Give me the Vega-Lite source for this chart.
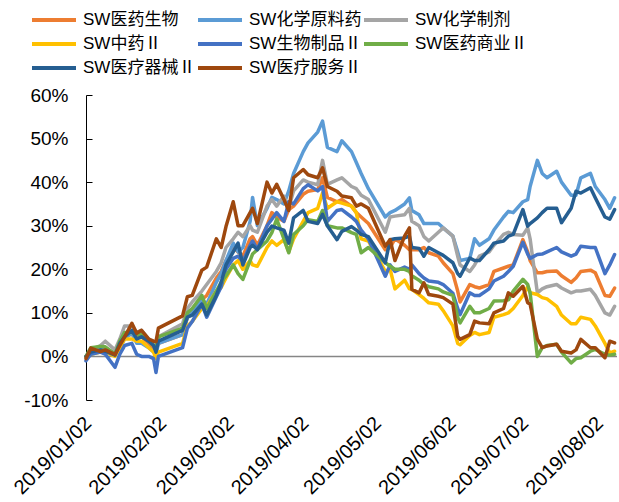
{
"$schema": "https://vega.github.io/schema/vega-lite/v6.json",
"width": 531,
"height": 305,
"autosize": {"type": "none"},
"padding": {"left": 86, "top": 95, "right": 2, "bottom": 102},
"background": "white",
"config": {"view": {"stroke": null}, "font": "Liberation Sans",
 "axisY": {"title": null, "grid": false, "domainColor": "#000", "domainWidth": 1, "tickColor": "#000", "tickSize": -6, "tickWidth": 1, "labelPadding": 24, "labelFontSize": 19, "labelColor": "#000", "values": [-10,0,10,20,30,40,50,60], "labelExpr": "datum.value + '%'"}},
"layer": [
{
"data": {"values": [{}]},
"mark": {"type": "rule", "color": "#868686", "strokeWidth": 1.5},
"encoding": {"y": {"datum": 0, "type": "quantitative"}}
},
{
"data": {"values": [
{"d":"2019-01-02","SW医药生物":0,"SW化学原料药":0,"SW化学制剂":0,"SW中药Ⅱ":0,"SW生物制品Ⅱ":-1,"SW医药商业Ⅱ":0,"SW医疗器械Ⅱ":0,"SW医疗服务Ⅱ":-0.5},
{"d":"2019-01-04","SW医药生物":1,"SW化学原料药":1,"SW化学制剂":1.5,"SW中药Ⅱ":0.5,"SW生物制品Ⅱ":0.5,"SW医药商业Ⅱ":2,"SW医疗器械Ⅱ":1,"SW医疗服务Ⅱ":1.9},
{"d":"2019-01-08","SW医药生物":1.5,"SW化学原料药":1.5,"SW化学制剂":2.5,"SW中药Ⅱ":1,"SW生物制品Ⅱ":1,"SW医药商业Ⅱ":2.3,"SW医疗器械Ⅱ":1.5,"SW医疗服务Ⅱ":1.1},
{"d":"2019-01-10","SW医药生物":2,"SW化学原料药":2,"SW化学制剂":3.5,"SW中药Ⅱ":1,"SW生物制品Ⅱ":0.5,"SW医药商业Ⅱ":2.2,"SW医疗器械Ⅱ":1.2,"SW医疗服务Ⅱ":1.5},
{"d":"2019-01-14","SW医药生物":0.5,"SW化学原料药":0.5,"SW化学制剂":1.5,"SW中药Ⅱ":0,"SW生物制品Ⅱ":-2.5,"SW医药商业Ⅱ":0.5,"SW医疗器械Ⅱ":0.3,"SW医疗服务Ⅱ":0.4},
{"d":"2019-01-16","SW医药生物":3,"SW化学原料药":2,"SW化学制剂":4,"SW中药Ⅱ":2,"SW生物制品Ⅱ":0.5,"SW医药商业Ⅱ":3.5,"SW医疗器械Ⅱ":3,"SW医疗服务Ⅱ":2.5},
{"d":"2019-01-18","SW医药生物":5,"SW化学原料药":4,"SW化学制剂":7,"SW中药Ⅱ":4,"SW生物制品Ⅱ":2.5,"SW医药商业Ⅱ":5.5,"SW医疗器械Ⅱ":4.5,"SW医疗服务Ⅱ":4.5},
{"d":"2019-01-21","SW医药生物":5,"SW化学原料药":5.5,"SW化学制剂":7,"SW中药Ⅱ":4,"SW生物制品Ⅱ":3,"SW医药商业Ⅱ":5.5,"SW医疗器械Ⅱ":6,"SW医疗服务Ⅱ":7.6},
{"d":"2019-01-23","SW医药生物":4.5,"SW化学原料药":3,"SW化学制剂":5.5,"SW中药Ⅱ":3.5,"SW生物制品Ⅱ":0.5,"SW医药商业Ⅱ":5,"SW医疗器械Ⅱ":4,"SW医疗服务Ⅱ":5.3},
{"d":"2019-01-25","SW医药生物":4.5,"SW化学原料药":3,"SW化学制剂":6,"SW中药Ⅱ":3.5,"SW生物制品Ⅱ":0,"SW医药商业Ⅱ":5,"SW医疗器械Ⅱ":4.5,"SW医疗服务Ⅱ":6},
{"d":"2019-01-28","SW医药生物":3,"SW化学原料药":2,"SW化学制剂":4,"SW中药Ⅱ":2,"SW生物制品Ⅱ":0,"SW医药商业Ⅱ":3.5,"SW医疗器械Ⅱ":3.5,"SW医疗服务Ⅱ":4},
{"d":"2019-01-30","SW医药生物":2,"SW化学原料药":1,"SW化学制剂":3,"SW中药Ⅱ":1,"SW生物制品Ⅱ":-0.5,"SW医药商业Ⅱ":2.5,"SW医疗器械Ⅱ":2.5,"SW医疗服务Ⅱ":3.5},
{"d":"2019-01-31","SW医药生物":1.5,"SW化学原料药":0.5,"SW化学制剂":2,"SW中药Ⅱ":-0.5,"SW生物制品Ⅱ":-3.7,"SW医药商业Ⅱ":2,"SW医疗器械Ⅱ":1,"SW医疗服务Ⅱ":3.4},
{"d":"2019-02-01","SW医药生物":3,"SW化学原料药":3,"SW化学制剂":4.5,"SW中药Ⅱ":1,"SW生物制品Ⅱ":0,"SW医药商业Ⅱ":4.5,"SW医疗器械Ⅱ":3.5,"SW医疗服务Ⅱ":6.5},
{"d":"2019-02-11","SW医药生物":5,"SW化学原料药":5,"SW化学制剂":7.5,"SW中药Ⅱ":3,"SW生物制品Ⅱ":2,"SW医药商业Ⅱ":6.5,"SW医疗器械Ⅱ":6,"SW医疗服务Ⅱ":9.3},
{"d":"2019-02-13","SW医药生物":9,"SW化学原料药":9,"SW化学制剂":11,"SW中药Ⅱ":7,"SW生物制品Ⅱ":6.5,"SW医药商业Ⅱ":10,"SW医疗器械Ⅱ":9,"SW医疗服务Ⅱ":13.7},
{"d":"2019-02-15","SW医药生物":10,"SW化学原料药":10,"SW化学制剂":12.5,"SW中药Ⅱ":8,"SW生物制品Ⅱ":8,"SW医药商业Ⅱ":11,"SW医疗器械Ⅱ":9.5,"SW医疗服务Ⅱ":14},
{"d":"2019-02-19","SW医药生物":13,"SW化学原料药":13,"SW化学制剂":15,"SW中药Ⅱ":11,"SW生物制品Ⅱ":12,"SW医药商业Ⅱ":14,"SW医疗器械Ⅱ":12,"SW医疗服务Ⅱ":19.8},
{"d":"2019-02-21","SW医药生物":14,"SW化学原料药":12,"SW化学制剂":16.5,"SW中药Ⅱ":11.5,"SW生物制品Ⅱ":9,"SW医药商业Ⅱ":11,"SW医疗器械Ⅱ":9.5,"SW医疗服务Ⅱ":20.5},
{"d":"2019-02-25","SW医药生物":18,"SW化学原料药":17,"SW化学制剂":19.5,"SW中药Ⅱ":15,"SW生物制品Ⅱ":13.7,"SW医药商业Ⅱ":15,"SW医疗器械Ⅱ":14,"SW医疗服务Ⅱ":27},
{"d":"2019-02-27","SW医药生物":19.5,"SW化学原料药":19,"SW化学制剂":21.5,"SW中药Ⅱ":15.8,"SW生物制品Ⅱ":16,"SW医药商业Ⅱ":17,"SW医疗器械Ⅱ":17,"SW医疗服务Ⅱ":25},
{"d":"2019-03-01","SW医药生物":22,"SW化学原料药":22,"SW化学制剂":25,"SW中药Ⅱ":18,"SW生物制品Ⅱ":20,"SW医药商业Ⅱ":18.5,"SW医疗器械Ⅱ":21,"SW医疗服务Ⅱ":29.8},
{"d":"2019-03-04","SW医药生物":25,"SW化学原料药":26,"SW化学制剂":27,"SW中药Ⅱ":21,"SW生物制品Ⅱ":22.5,"SW医药商业Ⅱ":21,"SW医疗器械Ⅱ":24,"SW医疗服务Ⅱ":35.5},
{"d":"2019-03-06","SW医药生物":24,"SW化学原料药":24,"SW化学制剂":28.5,"SW中药Ⅱ":22,"SW生物制品Ⅱ":23,"SW医药商业Ⅱ":19,"SW医疗器械Ⅱ":26,"SW医疗服务Ⅱ":30},
{"d":"2019-03-08","SW医药生物":23,"SW化学原料药":25,"SW化学制剂":27.5,"SW中药Ⅱ":20,"SW生物制品Ⅱ":21.8,"SW医药商业Ⅱ":17.7,"SW医疗器械Ⅱ":21,"SW医疗服务Ⅱ":30},
{"d":"2019-03-11","SW医药生物":27,"SW化学原料药":31,"SW化学制剂":30,"SW中药Ⅱ":22,"SW生物制品Ⅱ":25.5,"SW医药商业Ⅱ":22,"SW医疗器械Ⅱ":25,"SW医疗服务Ⅱ":33},
{"d":"2019-03-12","SW医药生物":27.5,"SW化学原料药":36.5,"SW化学制剂":29,"SW中药Ⅱ":21,"SW生物制品Ⅱ":26.5,"SW医药商业Ⅱ":23.5,"SW医疗器械Ⅱ":25.5,"SW医疗服务Ⅱ":34},
{"d":"2019-03-14","SW医药生物":25.5,"SW化学原料药":30,"SW化学制剂":28.5,"SW中药Ⅱ":20.7,"SW生物制品Ⅱ":24.5,"SW医药商业Ⅱ":24.5,"SW医疗器械Ⅱ":24.5,"SW医疗服务Ⅱ":30.5},
{"d":"2019-03-18","SW医药生物":30,"SW化学原料药":34,"SW化学制剂":34.5,"SW中药Ⅱ":25,"SW生物制品Ⅱ":30,"SW医药商业Ⅱ":26.5,"SW医疗器械Ⅱ":28.5,"SW医疗服务Ⅱ":40},
{"d":"2019-03-20","SW医药生物":33,"SW化学原料药":36.5,"SW化学制剂":36,"SW中药Ⅱ":26.5,"SW生物制品Ⅱ":31.5,"SW医药商业Ⅱ":28.4,"SW医疗器械Ⅱ":29.9,"SW医疗服务Ⅱ":37.5},
{"d":"2019-03-22","SW医药生物":32,"SW化学原料药":36,"SW化学制剂":34.5,"SW中药Ⅱ":25.5,"SW生物制品Ⅱ":33,"SW医药商业Ⅱ":31.5,"SW医疗器械Ⅱ":29.5,"SW医疗服务Ⅱ":39.5},
{"d":"2019-03-25","SW医药生物":31,"SW化学原料药":35,"SW化学制剂":36.8,"SW中药Ⅱ":26.8,"SW生物制品Ⅱ":31,"SW医药商业Ⅱ":27,"SW医疗器械Ⅱ":29,"SW医疗服务Ⅱ":36},
{"d":"2019-03-27","SW医药生物":33.7,"SW化学原料药":38,"SW化学制剂":34,"SW中药Ⅱ":24,"SW生物制品Ⅱ":35.5,"SW医药商业Ⅱ":23.8,"SW医疗器械Ⅱ":26,"SW医疗服务Ⅱ":33.5},
{"d":"2019-03-29","SW医药生物":34.5,"SW化学原料药":42,"SW化学制剂":38,"SW中药Ⅱ":27,"SW生物制品Ⅱ":35,"SW医药商业Ⅱ":28,"SW医疗器械Ⅱ":31.8,"SW医疗服务Ⅱ":41},
{"d":"2019-04-02","SW医药生物":37.2,"SW化学原料药":47,"SW化学制剂":40.5,"SW中药Ⅱ":31,"SW生物制品Ⅱ":38.5,"SW医药商业Ⅱ":30,"SW医疗器械Ⅱ":33.5,"SW医疗服务Ⅱ":42.9},
{"d":"2019-04-04","SW医药生物":37.9,"SW化学原料药":49,"SW化学制剂":40,"SW中药Ⅱ":33,"SW生物制品Ⅱ":39.4,"SW医药商业Ⅱ":31.4,"SW医疗器械Ⅱ":31,"SW医疗服务Ⅱ":41.7},
{"d":"2019-04-08","SW医药生物":38.3,"SW化学原料药":51.5,"SW化学制剂":39.4,"SW中药Ⅱ":34,"SW生物制品Ⅱ":38,"SW医药商业Ⅱ":31,"SW医疗器械Ⅱ":30.5,"SW医疗服务Ⅱ":41},
{"d":"2019-04-10","SW医药生物":41,"SW化学原料药":54,"SW化学制剂":45,"SW中药Ⅱ":37.5,"SW生物制品Ⅱ":39,"SW医药商业Ⅱ":33.5,"SW医疗器械Ⅱ":32.6,"SW医疗服务Ⅱ":43.3},
{"d":"2019-04-12","SW医药生物":36.5,"SW化学原料药":48,"SW化学制剂":39.5,"SW中药Ⅱ":34,"SW生物制品Ⅱ":31,"SW医药商业Ⅱ":30,"SW医疗器械Ⅱ":30,"SW医疗服务Ⅱ":39},
{"d":"2019-04-16","SW医药生物":35.5,"SW化学原料药":47,"SW化学制剂":40.5,"SW中药Ⅱ":35.5,"SW生物制品Ⅱ":33.5,"SW医药商业Ⅱ":29.5,"SW医疗器械Ⅱ":26.8,"SW医疗服务Ⅱ":37.9},
{"d":"2019-04-18","SW医药生物":36,"SW化学原料药":49.5,"SW化学制剂":41,"SW中药Ⅱ":35.2,"SW生物制品Ⅱ":33.7,"SW医药商业Ⅱ":29.5,"SW医疗器械Ⅱ":28.7,"SW医疗服务Ⅱ":36.8},
{"d":"2019-04-22","SW医药生物":34.5,"SW化学原料药":47,"SW化学制剂":39,"SW中药Ⅱ":34.5,"SW生物制品Ⅱ":32,"SW医药商业Ⅱ":28.4,"SW医疗器械Ⅱ":29.8,"SW医疗服务Ⅱ":36.4},
{"d":"2019-04-24","SW医药生物":33,"SW化学原料药":44.5,"SW化学制剂":38.5,"SW中药Ⅱ":33,"SW生物制品Ⅱ":31,"SW医药商业Ⅱ":28,"SW医疗器械Ⅱ":29,"SW医疗服务Ⅱ":34.5},
{"d":"2019-04-26","SW医药生物":32,"SW化学原料药":42,"SW化学制剂":37,"SW中药Ⅱ":27,"SW生物制品Ⅱ":29,"SW医药商业Ⅱ":23.8,"SW医疗器械Ⅱ":28,"SW医疗服务Ⅱ":35},
{"d":"2019-04-29","SW医药生物":30.5,"SW化学原料药":38.5,"SW化学制剂":36,"SW中药Ⅱ":26.5,"SW生物制品Ⅱ":27,"SW医药商业Ⅱ":25,"SW医疗器械Ⅱ":27.5,"SW医疗服务Ⅱ":34},
{"d":"2019-05-06","SW医药生物":24.5,"SW化学原料药":32,"SW化学制剂":28.5,"SW中药Ⅱ":19.5,"SW生物制品Ⅱ":18.4,"SW医药商业Ⅱ":21.5,"SW医疗器械Ⅱ":21.5,"SW医疗服务Ⅱ":25.3},
{"d":"2019-05-08","SW医药生物":25,"SW化学原料药":33,"SW化学制剂":32,"SW中药Ⅱ":20,"SW生物制品Ⅱ":21,"SW医药商业Ⅱ":20.7,"SW医疗器械Ⅱ":26.8,"SW医疗服务Ⅱ":26.8},
{"d":"2019-05-10","SW医药生物":27,"SW化学原料药":33.5,"SW化学制剂":32.2,"SW中药Ⅱ":15.5,"SW生物制品Ⅱ":19.5,"SW医药商业Ⅱ":20,"SW医疗器械Ⅱ":27,"SW医疗服务Ⅱ":22},
{"d":"2019-05-14","SW医药生物":25.5,"SW化学原料药":35,"SW化学制剂":32.5,"SW中药Ⅱ":17.5,"SW生物制品Ⅱ":20.5,"SW医药商业Ⅱ":20,"SW医疗器械Ⅱ":27.2,"SW医疗服务Ⅱ":27.6},
{"d":"2019-05-16","SW医药生物":24.5,"SW化学原料药":36.4,"SW化学制剂":34,"SW中药Ⅱ":15.5,"SW生物制品Ⅱ":20,"SW医药商业Ⅱ":19.5,"SW医疗器械Ⅱ":27.6,"SW医疗服务Ⅱ":29.5},
{"d":"2019-05-17","SW医药生物":24.5,"SW化学原料药":33.5,"SW化学制剂":31,"SW中药Ⅱ":15.4,"SW生物制品Ⅱ":21,"SW医药商业Ⅱ":18.5,"SW医疗器械Ⅱ":25,"SW医疗服务Ⅱ":15.4},
{"d":"2019-05-20","SW医药生物":24.5,"SW化学原料药":32.5,"SW化学制剂":30,"SW中药Ⅱ":14.2,"SW生物制品Ⅱ":19,"SW医药商业Ⅱ":17.5,"SW医疗器械Ⅱ":24.8,"SW医疗服务Ⅱ":14.6},
{"d":"2019-05-22","SW医药生物":25,"SW化学原料药":30.5,"SW化学制剂":27.5,"SW中药Ⅱ":13.3,"SW生物制品Ⅱ":18,"SW医药商业Ⅱ":16.5,"SW医疗器械Ⅱ":23,"SW医疗服务Ⅱ":16.9},
{"d":"2019-05-24","SW医药生物":23.8,"SW化学原料药":30.5,"SW化学制剂":26.5,"SW中药Ⅱ":12.3,"SW生物制品Ⅱ":17.3,"SW医药商业Ⅱ":16,"SW医疗器械Ⅱ":25,"SW医疗服务Ⅱ":14.2},
{"d":"2019-05-28","SW医药生物":23,"SW化学原料药":30.5,"SW化学制剂":28.5,"SW中药Ⅱ":12,"SW生物制品Ⅱ":17,"SW医药商业Ⅱ":15.5,"SW医疗器械Ⅱ":23.8,"SW医疗服务Ⅱ":13.8},
{"d":"2019-05-30","SW医药生物":21.5,"SW化学原料药":29.5,"SW化学制剂":29.5,"SW中药Ⅱ":10.5,"SW生物制品Ⅱ":16.5,"SW医药商业Ⅱ":14.8,"SW医疗器械Ⅱ":23.2,"SW医疗服务Ⅱ":13.5},
{"d":"2019-06-03","SW医药生物":19,"SW化学原料药":27.6,"SW化学制剂":27.6,"SW中药Ⅱ":7,"SW生物制品Ⅱ":14.5,"SW医药商业Ⅱ":14,"SW医疗器械Ⅱ":21.5,"SW医疗服务Ⅱ":12},
{"d":"2019-06-05","SW医药生物":15,"SW化学原料药":24,"SW化学制剂":23,"SW中药Ⅱ":3,"SW生物制品Ⅱ":11,"SW医药商业Ⅱ":9,"SW医疗器械Ⅱ":19,"SW医疗服务Ⅱ":4.6},
{"d":"2019-06-06","SW医药生物":12.5,"SW化学原料药":22,"SW化学制剂":21,"SW中药Ⅱ":2.7,"SW生物制品Ⅱ":9.6,"SW医药商业Ⅱ":7.7,"SW医疗器械Ⅱ":18.4,"SW医疗服务Ⅱ":3.9},
{"d":"2019-06-10","SW医药生物":16.5,"SW化学原料药":22.5,"SW化学制剂":19.5,"SW中药Ⅱ":4.8,"SW生物制品Ⅱ":14.6,"SW医药商业Ⅱ":11.5,"SW医疗器械Ⅱ":22.6,"SW医疗服务Ⅱ":5},
{"d":"2019-06-12","SW医药生物":16,"SW化学原料药":27,"SW化学制剂":21,"SW中药Ⅱ":5.5,"SW生物制品Ⅱ":14,"SW医药商业Ⅱ":10,"SW医疗器械Ⅱ":22,"SW医疗服务Ⅱ":8.1},
{"d":"2019-06-14","SW医药生物":15.7,"SW化学原料药":25.5,"SW化学制剂":23,"SW中药Ⅱ":5,"SW生物制品Ⅱ":14,"SW医药商业Ⅱ":10,"SW医疗器械Ⅱ":22,"SW医疗服务Ⅱ":7.7},
{"d":"2019-06-18","SW医药生物":16.5,"SW化学原料药":27,"SW化学制剂":24,"SW中药Ⅱ":5.5,"SW生物制品Ⅱ":15.5,"SW医药商业Ⅱ":11,"SW医疗器械Ⅱ":24.5,"SW医疗服务Ⅱ":7.5},
{"d":"2019-06-20","SW医药生物":19.5,"SW化学原料药":29,"SW化学制剂":25.5,"SW中药Ⅱ":9,"SW生物制品Ⅱ":17.3,"SW医药商业Ⅱ":12.7,"SW医疗器械Ⅱ":26,"SW医疗服务Ⅱ":10},
{"d":"2019-06-24","SW医药生物":20.3,"SW化学原料药":32,"SW化学制剂":28,"SW中药Ⅱ":9.6,"SW生物制品Ⅱ":18.4,"SW医药商业Ⅱ":12.8,"SW医疗器械Ⅱ":26.5,"SW医疗服务Ⅱ":11},
{"d":"2019-06-26","SW医药生物":20.7,"SW化学原料药":33.3,"SW化学制剂":28.5,"SW中药Ⅱ":10,"SW生物制品Ⅱ":19.5,"SW医药商业Ⅱ":13,"SW医疗器械Ⅱ":27.6,"SW医疗服务Ⅱ":14.6},
{"d":"2019-06-28","SW医药生物":21,"SW化学原料药":33,"SW化学制剂":28,"SW中药Ⅱ":11,"SW生物制品Ⅱ":20.7,"SW医药商业Ⅱ":15,"SW医疗器械Ⅱ":28,"SW医疗服务Ⅱ":13.8},
{"d":"2019-07-02","SW医药生物":26.8,"SW化学原料药":35.5,"SW化学制剂":27.8,"SW中药Ⅱ":14,"SW生物制品Ⅱ":26.2,"SW医药商业Ⅱ":17.7,"SW医疗器械Ⅱ":33.7,"SW医疗服务Ⅱ":16.1},
{"d":"2019-07-04","SW医药生物":24,"SW化学原料药":36,"SW化学制剂":29.5,"SW中药Ⅱ":16,"SW生物制品Ⅱ":23.5,"SW医药商业Ⅱ":16.5,"SW医疗器械Ⅱ":29.9,"SW医疗服务Ⅱ":12.3},
{"d":"2019-07-05","SW医药生物":22,"SW化学原料药":39,"SW化学制剂":27,"SW中药Ⅱ":14.6,"SW生物制品Ⅱ":22.5,"SW医药商业Ⅱ":14.6,"SW医疗器械Ⅱ":30.5,"SW医疗服务Ⅱ":12},
{"d":"2019-07-08","SW医药生物":19.2,"SW化学原料药":45,"SW化学制剂":14.6,"SW中药Ⅱ":14.2,"SW生物制品Ⅱ":23.4,"SW医药商业Ⅱ":0,"SW医疗器械Ⅱ":31.8,"SW医疗服务Ⅱ":4},
{"d":"2019-07-10","SW医药生物":19.2,"SW化学原料药":42,"SW化学制剂":15.5,"SW中药Ⅱ":13.5,"SW生物制品Ⅱ":23.5,"SW医药商业Ⅱ":2,"SW医疗器械Ⅱ":33,"SW医疗服务Ⅱ":2},
{"d":"2019-07-12","SW医药生物":19.5,"SW化学原料药":41,"SW化学制剂":16,"SW中药Ⅱ":13.2,"SW生物制品Ⅱ":24,"SW医药商业Ⅱ":2.5,"SW医疗器械Ⅱ":34,"SW医疗服务Ⅱ":2.4},
{"d":"2019-07-16","SW医药生物":19.6,"SW化学原料药":42.5,"SW化学制剂":16.5,"SW中药Ⅱ":11.5,"SW生物制品Ⅱ":25,"SW医药商业Ⅱ":2.8,"SW医疗器械Ⅱ":34,"SW医疗服务Ⅱ":2.8},
{"d":"2019-07-18","SW医药生物":18.5,"SW化学原料药":40,"SW化学制剂":15.7,"SW中药Ⅱ":9.5,"SW生物制品Ⅱ":24,"SW医药商业Ⅱ":1,"SW医疗器械Ⅱ":30.7,"SW医疗服务Ⅱ":1.2},
{"d":"2019-07-22","SW医药生物":17,"SW化学原料药":37,"SW化学制剂":14.6,"SW中药Ⅱ":7.5,"SW生物制品Ⅱ":23,"SW医药商业Ⅱ":-1.5,"SW医疗器械Ⅱ":34,"SW医疗服务Ⅱ":0.8},
{"d":"2019-07-24","SW医药生物":18,"SW化学原料药":37,"SW化学制剂":15,"SW中药Ⅱ":7.5,"SW生物制品Ⅱ":23.5,"SW医药商业Ⅱ":-0.5,"SW医疗器械Ⅱ":37.9,"SW医疗服务Ⅱ":1.5},
{"d":"2019-07-26","SW医药生物":19.5,"SW化学原料药":41,"SW化学制剂":15,"SW中药Ⅱ":9,"SW生物制品Ⅱ":25.3,"SW医药商业Ⅱ":-0.3,"SW医疗器械Ⅱ":37.5,"SW医疗服务Ⅱ":3.9},
{"d":"2019-07-30","SW医药生物":19.8,"SW化学原料药":42,"SW化学制剂":15.4,"SW中药Ⅱ":8.5,"SW生物制品Ⅱ":25,"SW医药商业Ⅱ":1.2,"SW医疗器械Ⅱ":38.7,"SW医疗服务Ⅱ":2},
{"d":"2019-08-01","SW医药生物":19.2,"SW化学原料药":39,"SW化学制剂":14,"SW中药Ⅱ":7,"SW生物制品Ⅱ":25,"SW医药商业Ⅱ":1.6,"SW医疗器械Ⅱ":36.4,"SW医疗服务Ⅱ":2},
{"d":"2019-08-05","SW医药生物":14,"SW化学原料药":36,"SW化学制剂":10,"SW中药Ⅱ":3,"SW生物制品Ⅱ":19,"SW医药商业Ⅱ":0.5,"SW医疗器械Ⅱ":32,"SW医疗服务Ⅱ":-0.3},
{"d":"2019-08-07","SW医药生物":13.8,"SW化学原料药":34,"SW化学制剂":9.5,"SW中药Ⅱ":0.8,"SW生物制品Ⅱ":21,"SW医药商业Ⅱ":0.3,"SW医疗器械Ⅱ":31.5,"SW医疗服务Ⅱ":3.5},
{"d":"2019-08-09","SW医药生物":15.7,"SW化学原料药":36.4,"SW化学制剂":11.5,"SW中药Ⅱ":1.2,"SW生物制品Ⅱ":23.4,"SW医药商业Ⅱ":0.5,"SW医疗器械Ⅱ":33.7,"SW医疗服务Ⅱ":3.1}
]},
"transform": [{"fold": ["SW医药生物","SW化学原料药","SW化学制剂","SW中药Ⅱ","SW生物制品Ⅱ","SW医药商业Ⅱ","SW医疗器械Ⅱ","SW医疗服务Ⅱ"], "as": ["series","value"]}],
"mark": {"type": "line", "strokeWidth": 3.5, "strokeJoin": "round", "strokeCap": "round"},
"encoding": {
"x": {"field": "d", "type": "temporal",
 "scale": {"type": "utc", "domain": [{"year":2019,"month":1,"date":2,"utc":true},{"year":2019,"month":8,"date":10,"utc":true}]},
 "axis": {"values": [{"year":2019,"month":1,"date":2,"utc":true},{"year":2019,"month":2,"date":2,"utc":true},{"year":2019,"month":3,"date":2,"utc":true},{"year":2019,"month":4,"date":2,"utc":true},{"year":2019,"month":5,"date":2,"utc":true},{"year":2019,"month":6,"date":2,"utc":true},{"year":2019,"month":7,"date":2,"utc":true},{"year":2019,"month":8,"date":2,"utc":true}],
  "labelExpr": "utcFormat(datum.value, '%Y/%m/%d')", "labelAngle": -45, "labelAlign": "right", "labelBaseline": "middle", "labelPadding": 20, "labelOffset": 2,
  "domain": false, "ticks": false, "grid": false, "labelFontSize": 20, "labelColor": "#000", "title": null, "labelOverlap": false, "labelBound": false, "labelFlush": false}},
"y": {"field": "value", "type": "quantitative",
 "scale": {"domain": [-10, 60], "nice": false, "zero": false}},
"color": {"field": "series", "type": "nominal",
 "scale": {"domain": ["SW医药生物","SW化学原料药","SW化学制剂","SW中药Ⅱ","SW生物制品Ⅱ","SW医药商业Ⅱ","SW医疗器械Ⅱ","SW医疗服务Ⅱ"],
  "range": ["#ED7D31","#5B9BD5","#A5A5A5","#FFC000","#4472C4","#70AD47","#255E91","#9E480E"]},
 "legend": {"orient": "none", "legendX": -56, "legendY": -88, "direction": "horizontal", "columns": 3, "title": null, "symbolType": "M-1,0H3", "symbolSize": 484, "symbolStrokeWidth": 4, "labelFontSize": 17, "labelFont": "Liberation Sans, Noto Sans CJK SC", "labelColor": "#000", "columnPadding": -20, "rowPadding": 3, "gridAlign": "all", "labelOffset": 27, "labelLimit": 0}}
}
}
]
}
